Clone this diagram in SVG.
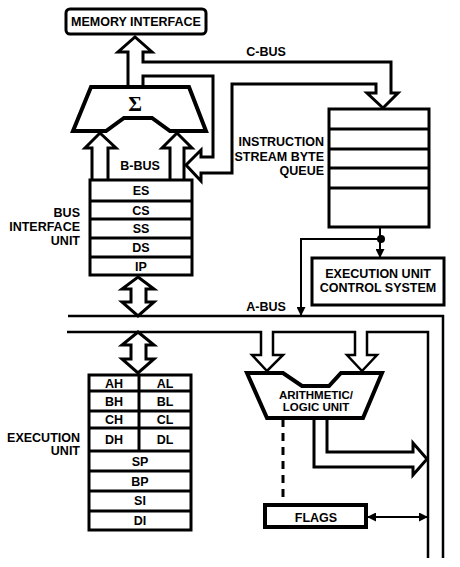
<svg xmlns="http://www.w3.org/2000/svg" width="460" height="567" viewBox="0 0 460 567">
<style>
.ln{fill:none;stroke:#000;stroke-width:3;stroke-linejoin:miter;stroke-linecap:butt}
.bx{fill:#fff;stroke:#000;stroke-width:3}
.thick{stroke-width:4}
.bus{fill:none;stroke:#000;stroke-width:2.5}
.thin{fill:none;stroke:#000;stroke-width:2}
.t{font-family:"Liberation Sans",Arial,sans-serif;font-weight:bold;font-size:12.5px;fill:#000}
.s{font-size:11.5px}
.m{text-anchor:middle}
.e{text-anchor:end}
</style>
<defs>
<marker id="ah" viewBox="0 0 10 10" refX="10" refY="5" markerWidth="9" markerHeight="9" markerUnits="userSpaceOnUse" orient="auto-start-reverse">
<path d="M0,0 L10,5 L0,10 z" fill="#000"/>
</marker>
</defs>
<rect width="460" height="567" fill="#fff"/>

<g id="connectors">
<path class="ln" d="M128,87 V52 H118 L135,37 L152,52 H143 V62 H391 V93 H398 L383,108 L367,93 H376 V84 H232 V173 H201 V181 L186,165 L201,150 V157 H213 V76 H143 V87"/>
<path class="ln" d="M92,180 V148 H85 L100,133 L116,148 H108 V180"/>
<path class="ln" d="M170,180 V148 H162 L177,133 L192,148 H184 V180"/>
<path class="ln" d="M138,277 L154,289 H146 V302 H154 L138,316 L122,302 H131 V289 H122 Z"/>
<path class="ln" d="M138,332 L154,345 H146 V359 H154 L138,373 L122,359 H131 V345 H122 Z"/>
<path class="bus" d="M68,316 H443 V558"/>
<path class="bus" d="M67,332 H261 V355 H252 L267,371 L283,355 H273 V332 H355 V355 H347 L362,371 L377,355 H367 V332 H428 V558"/>
<path class="ln" d="M327,418 V452 H413 V443 L427,459 L413,475 V467 H314 V418"/>
<path class="ln" d="M283,419 V505" stroke-dasharray="8,6"/>
<line class="thin" x1="380" y1="227" x2="380" y2="258" marker-end="url(#ah)"/>
<path class="thin" d="M381,239 H301 V316" marker-end="url(#ah)"/>
<circle cx="381" cy="239" r="4" fill="#000"/>
<line class="thin" x1="367" y1="517" x2="428" y2="517" marker-start="url(#ah)" marker-end="url(#ah)"/>
</g>

<g id="memory-interface">
<rect x="66" y="9" width="140" height="25" rx="4" class="bx" stroke-width="3.5"/>
<text class="t m" x="136" y="26">MEMORY INTERFACE</text>
</g>

<g id="c-bus-label"><text class="t m" x="266" y="56">C-BUS</text></g>

<g id="adder">
<path class="bx thick" d="M91,87 H189 L206,131 H170 L152,118 H124 L106,131 H73 Z"/>
<text x="135" y="111" text-anchor="middle" font-family="'Liberation Serif','Times New Roman',serif" font-weight="bold" font-size="21">Σ</text>
</g>

<g id="b-bus-label"><text class="t m" x="140" y="170">B-BUS</text></g>

<g id="biu-registers">
<rect x="90" y="180" width="102" height="95" class="bx"/>
<path class="ln" d="M90,201 H192 M90,219 H192 M90,238 H192 M90,257 H192"/>
<text class="t m" x="141" y="195">ES</text>
<text class="t m" x="141" y="214.5">CS</text>
<text class="t m" x="141" y="233">SS</text>
<text class="t m" x="141" y="252">DS</text>
<text class="t m" x="141" y="270.5">IP</text>
</g>

<g id="biu-label">
<text class="t e" x="80" y="217">BUS</text>
<text class="t e" x="80" y="231">INTERFACE</text>
<text class="t e" x="80" y="245">UNIT</text>
</g>

<g id="queue">
<rect x="329" y="109" width="100" height="118" class="bx"/>
<path class="ln" d="M329,129 H429 M329,149 H429 M329,168 H429 M329,188 H429"/>
<text class="t e" x="324" y="146">INSTRUCTION</text>
<text class="t e" x="324" y="161">STREAM BYTE</text>
<text class="t e" x="324" y="175">QUEUE</text>
</g>

<g id="eu-control">
<rect x="312" y="258" width="132" height="47" class="bx" stroke-width="4.5"/>
<text class="t m" x="378" y="277.5">EXECUTION UNIT</text>
<text class="t m" x="378" y="291.5">CONTROL SYSTEM</text>
</g>

<g id="a-bus-label"><text class="t m" x="266" y="311">A-BUS</text></g>

<g id="alu">
<path class="bx thick" d="M247,373 H283 L302,386 H329 L341,373 H382 L363,418 H267 Z"/>
<text class="t s m" x="316" y="398.5">ARITHMETIC/</text>
<text class="t s m" x="316" y="411">LOGIC UNIT</text>
</g>

<g id="eu-registers">
<rect x="89" y="375" width="102" height="155" class="bx"/>
<path class="ln" d="M89,391 H191 M89,411 H191 M89,428 H191 M89,451 H191 M89,471 H191 M89,491 H191 M89,511 H191 M139,375 V451"/>
<text class="t m" x="114" y="387.5">AH</text>
<text class="t m" x="165" y="387.5">AL</text>
<text class="t m" x="114" y="405.5">BH</text>
<text class="t m" x="165" y="405.5">BL</text>
<text class="t m" x="114" y="424">CH</text>
<text class="t m" x="165" y="424">CL</text>
<text class="t m" x="114" y="444">DH</text>
<text class="t m" x="165" y="444">DL</text>
<text class="t m" x="140" y="465.5">SP</text>
<text class="t m" x="140" y="485.5">BP</text>
<text class="t m" x="140" y="505">SI</text>
<text class="t m" x="140" y="525">DI</text>
</g>

<g id="eu-label">
<text class="t e" x="80" y="441.5">EXECUTION</text>
<text class="t e" x="80" y="454.5">UNIT</text>
</g>

<g id="flags">
<rect x="265" y="505" width="101" height="22" class="bx thick"/>
<text class="t m" x="316" y="521.5">FLAGS</text>
</g>
</svg>
